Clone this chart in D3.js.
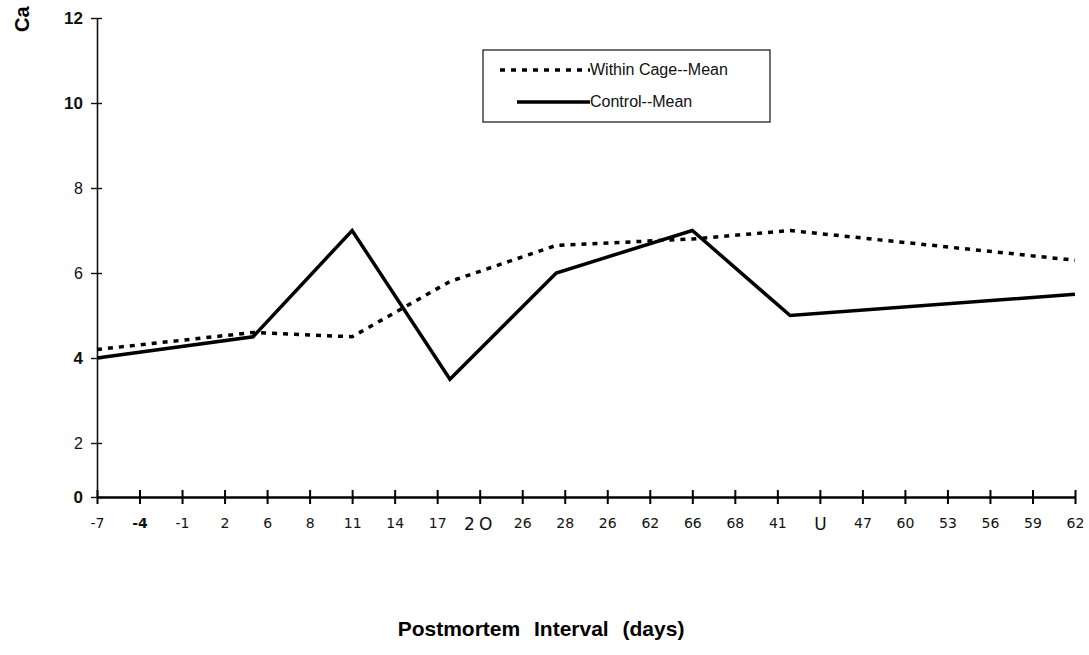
<!DOCTYPE html>
<html><head><meta charset="utf-8">
<script src="https://cdn.jsdelivr.net/npm/d3@7"></script>
<style>body{margin:0;background:#fff}svg{display:block}</style>
</head><body>
<svg id="c" width="1089" height="655"></svg>
<script>
// tick labels of the category axis (as printed)
const xTickLabels = ["-7","-4","-1","2","6","8","11","14","17","2O","26","28","26","62","66","68","41","U","47","60","53","56","59","62"];
const yTicks = [0, 2, 4, 6, 8, 10, 12];
// sample positions in axis-tick units and series means
const samplePos = [0, 3.67, 6, 8.3, 10.8, 14, 16.3, 23];
const withinCage = [4.2, 4.6, 4.5, 5.8, 6.65, 6.8, 7.0, 6.3];
const control    = [4.0, 4.5, 7.0, 3.5, 6.0, 7.0, 5.0, 5.5];
const seriesNames = ["Within Cage--Mean", "Control--Mean"];

const svg = d3.select("#c");
const x0 = 97, x1 = 1075, yTop = 18, yBot = 497;
const x = d3.scaleLinear().domain([0, xTickLabels.length - 1]).range([x0, x1]);
const y = d3.scaleLinear().domain([0, 2, 12]).range([yBot, 443, yTop]);

// y axis
const yAxis = d3.axisLeft(y).tickValues(yTicks).tickSizeInner(6).tickSizeOuter(0).tickFormat(d3.format("d"));
const gy = svg.append("g").attr("transform", `translate(${x0},0)`).call(yAxis);
gy.select(".domain").attr("stroke", "#111").attr("stroke-width", 1.6);
gy.selectAll(".tick line").attr("x2", 5).attr("x1", -6).attr("stroke", "#111").attr("stroke-width", 1.4);
gy.selectAll(".tick text").attr("x", -14)
  .style("font-family", "Liberation Sans, Arial, sans-serif")
  .style("font-size", d => (d === 12 || d === 10 || d === 0 || d === 4) ? "17px" : "16px")
  .style("font-weight", d => (d === 12 || d === 10 || d === 0 || d === 4) ? "bold" : "normal")
  .attr("fill", "#111");

// x axis
const xAxis = d3.axisBottom(x).tickValues(d3.range(xTickLabels.length)).tickSizeInner(6).tickSizeOuter(0)
  .tickFormat(i => xTickLabels[i]);
const gx = svg.append("g").attr("transform", `translate(0,${yBot})`).call(xAxis);
gx.select(".domain").attr("stroke", "#000").attr("stroke-width", 2.6);
gx.selectAll(".tick line").attr("y1", -7).attr("y2", 7).attr("stroke", "#000").attr("stroke-width", 2);
gx.selectAll(".tick text").attr("y", 21)
  .style("font-family", "DejaVu Sans, sans-serif")
  .style("font-size", (d) => xTickLabels[d] === "2O" || xTickLabels[d] === "U" ? "17px" : "14px")
  .style("letter-spacing", d => xTickLabels[d] === "2O" ? "4px" : "0px")
  .style("font-weight", d => xTickLabels[d] === "-4" && d === 1 ? "bold" : "normal")
  .attr("fill", "#111");

// lines
const line = d3.line().x((d, i) => x(samplePos[i])).y(d => y(d));
svg.append("path").datum(withinCage).attr("d", line).attr("fill", "none")
  .attr("stroke", "#000").attr("stroke-width", 3.5).attr("stroke-dasharray", "5,6");
svg.append("path").datum(control).attr("d", line).attr("fill", "none")
  .attr("stroke", "#000").attr("stroke-width", 3.5).attr("stroke-linejoin", "miter");

// legend
const lg = svg.append("g");
lg.append("rect").attr("x", 483).attr("y", 50).attr("width", 287).attr("height", 72)
  .attr("fill", "#fff").attr("stroke", "#222").attr("stroke-width", 1.3);
lg.append("line").attr("x1", 500).attr("x2", 590).attr("y1", 70).attr("y2", 70)
  .attr("stroke", "#000").attr("stroke-width", 3.5).attr("stroke-dasharray", "5,6");
lg.append("line").attr("x1", 517).attr("x2", 590).attr("y1", 102).attr("y2", 102)
  .attr("stroke", "#000").attr("stroke-width", 3.5);
lg.selectAll("text").data(seriesNames).join("text")
  .attr("x", 590).attr("y", (d, i) => i === 0 ? 75 : 107)
  .style("font-family", "Liberation Sans, Arial, sans-serif").style("font-size", "16px")
  .attr("fill", "#111").text(d => d);

// titles
svg.append("text").attr("transform", "translate(29,32) rotate(-90)")
  .style("font-family", "Liberation Sans, Arial, sans-serif").style("font-size", "20px").style("font-weight", "bold")
  .text("Ca");
svg.append("text").attr("x", 541).attr("y", 636).attr("text-anchor", "middle")
  .style("font-family", "Liberation Sans, Arial, sans-serif").style("font-size", "21px").style("font-weight", "bold")
  .style("word-spacing", "8px")
  .text("Postmortem Interval (days)");
</script>
</body></html>
